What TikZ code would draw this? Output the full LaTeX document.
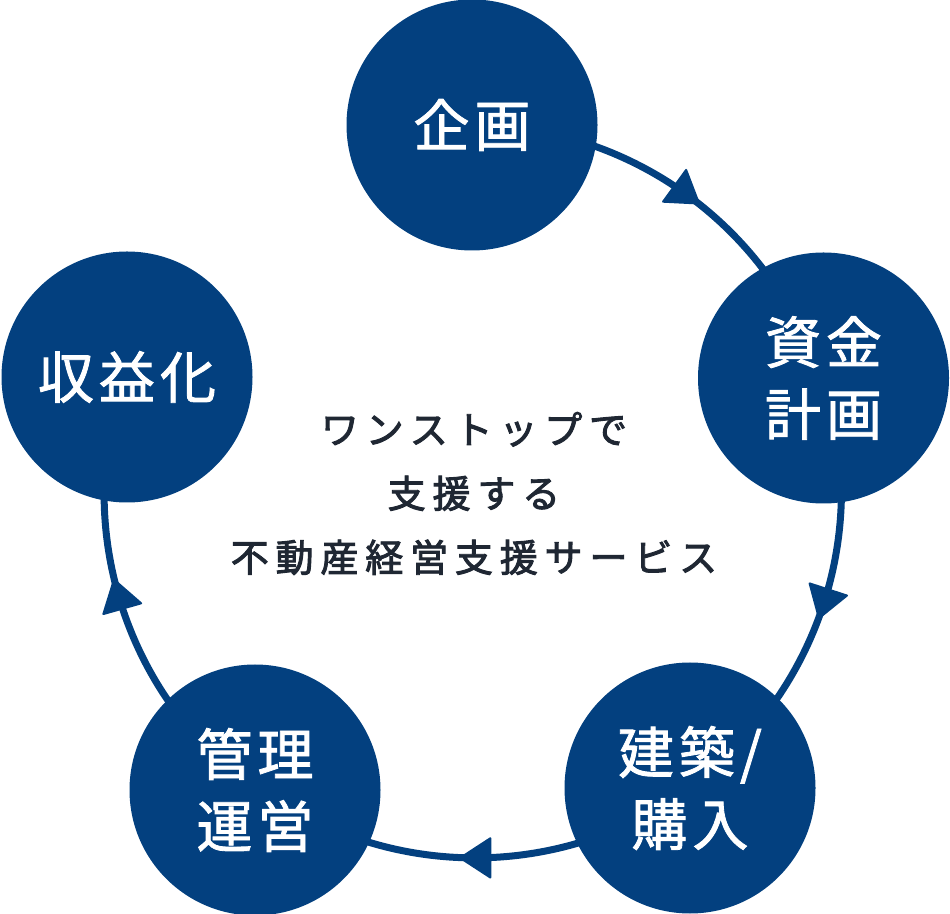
\documentclass[tikz,border=0pt]{standalone}
\usepackage{fontspec}
\usetikzlibrary{decorations.markings}
\newfontfamily\jpcirc{Noto Sans CJK JP}[LetterSpace=9,FakeBold=1.5]
\newfontfamily\jpmid{Noto Sans CJK JP}[LetterSpace=18,FakeBold=2.5]
\definecolor{navy}{HTML}{03407F}
\definecolor{ink}{HTML}{1F2733}
\pgfdeclarelayer{bg}
\pgfsetlayers{bg,main}
\begin{document}
\begin{tikzpicture}[x=1pt,y=1pt,
  stagecircle/.style={circle, fill=navy, minimum size=251pt, inner sep=0pt,
    text=white, align=center, font=\jpcirc\fontsize{56}{72}\selectfont},
  ring/.style={draw=navy, line width=7pt, postaction={decorate},
    decoration={markings, mark=at position #1 with {
      \fill[navy, rounded corners=2pt] (16.5pt,0pt) -- (-16.5pt,21.5pt) -- (-16.5pt,-21.5pt) -- cycle;}}},
  ring/.default=0.5,
  centertext/.style={text=ink, align=center, font=\jpmid\fontsize{38}{64}\selectfont}
]
\useasboundingbox (0,0) rectangle (950,913);
\node[stagecircle] (plan) at (472,788) {企画};
\node[stagecircle] (fund) at (823.5,535) {資金\\計画};
\node[stagecircle] (build) at (690,125) {建築/\\購入};
\node[stagecircle] (manage) at (255,123) {管理\\運営};
\node[stagecircle] (profit) at (127,536) {収益化};
\node[centertext] (center) at (474,419.5) {ワンストップで\\支援する\\不動産経営支援サービス};
\begin{pgfonlayer}{bg}
\draw[ring] (plan.center) arc[start angle=90, end angle=18, radius=366];
\draw[ring] (fund.center) arc[start angle=18, end angle=-54, radius=366];
\draw[ring] (build.center) arc[start angle=-54, end angle=-126, radius=366];
\draw[ring=0.53] (manage.center) arc[start angle=-126, end angle=-198, radius=366];
\end{pgfonlayer}
\end{tikzpicture}
\end{document}
